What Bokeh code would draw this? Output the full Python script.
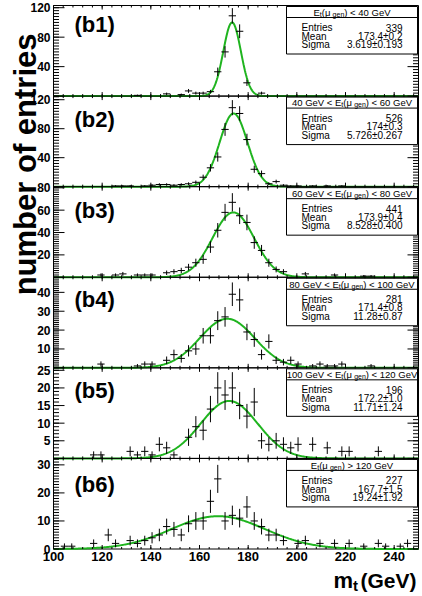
import numpy as np
from bokeh.plotting import figure
from bokeh.models import Range1d, Label
from bokeh.embed import file_html
from bokeh.resources import INLINE

# ---------------- data ----------------
BIN_W = 3.0
X_MIN, X_MAX = 100.0, 250.0

b1_x = [134.5, 146.5, 152.5, 155.5, 158.5, 161.5, 164.5, 167.5, 170.5, 173.5, 176.5, 179.5, 185.5]
b1_n = [1, 3, 2, 7, 4, 4, 6, 33, 60, 109, 88, 18, 4]

b2_x = [125.5, 128.5, 131.5, 137.5, 140.5, 143.5, 146.5, 149.5, 152.5, 155.5, 158.5, 161.5, 164.5,
        167.5, 170.5, 173.5, 176.5, 179.5, 182.5, 185.5, 188.5, 191.5, 194.5, 197.5, 200.5, 206.5,
        212.5, 218.5]
b2_n = [1, 1, 1, 1, 2, 3, 3, 2, 3, 4, 6, 13, 26, 41, 79, 109, 101, 65, 24, 18, 4, 7, 2, 1, 1, 1, 1, 1]

b3_x = [119.5, 125.5, 128.5, 134.5, 137.5, 140.5, 146.5, 149.5, 152.5, 155.5, 158.5, 161.5, 164.5,
        167.5, 170.5, 173.5, 176.5, 179.5, 182.5, 185.5, 188.5, 191.5, 194.5, 203.5, 215.5, 227.5,
        230.5]
b3_n = [2, 2, 3, 2, 2, 2, 4, 5, 6, 9, 13, 16, 27, 42, 58, 67, 55, 49, 31, 24, 13, 7, 5, 3, 2, 1, 1]

b4_x = [119.5, 134.5, 137.5, 140.5, 146.5, 149.5, 152.5, 155.5, 158.5, 161.5, 164.5, 167.5, 170.5,
        173.5, 176.5, 179.5, 182.5, 185.5, 188.5, 191.5, 194.5, 197.5, 200.5, 206.5, 209.5, 212.5,
        215.5, 218.5, 230.5]
b4_n = [2, 1, 2, 2, 4, 7, 5, 9, 10, 17, 17, 25, 27, 39, 36, 19, 15, 7, 14, 4, 3, 4, 2, 1, 2, 1, 1, 2, 1]

b5_x = [116.5, 119.5, 131.5, 134.5, 137.5, 140.5, 143.5, 146.5, 149.5, 155.5, 158.5, 161.5, 164.5,
        167.5, 170.5, 173.5, 176.5, 179.5, 182.5, 185.5, 188.5, 191.5, 194.5, 197.5, 200.5, 206.5,
        212.5, 218.5, 221.5, 233.5]
b5_n = [1, 1, 2, 1, 2, 1, 4, 3, 1, 6, 9, 8, 14, 20, 18, 20, 15, 12, 16, 5, 4, 5, 4, 3, 4, 4, 3, 2, 2, 2]

b6_x = [104.5, 107.5, 116.5, 122.5, 125.5, 131.5, 134.5, 137.5, 140.5, 143.5, 146.5, 149.5, 152.5,
        155.5, 158.5, 161.5, 164.5, 167.5, 170.5, 173.5, 176.5, 179.5, 182.5, 185.5, 188.5, 191.5,
        194.5, 200.5, 203.5, 209.5, 215.5, 221.5, 227.5, 233.5, 236.5, 242.5, 245.5]
b6_n = [1, 1, 2, 5, 2, 3, 2, 3, 4, 5, 8, 7, 5, 9, 10, 10, 17, 25, 10, 12, 11, 15, 10, 8, 5, 5,
        3, 2, 3, 2, 2, 2, 1, 2, 1, 1, 2]

panel_names = ["(b1)", "(b2)", "(b3)", "(b4)", "(b5)", "(b6)"]
panel_x = [b1_x, b2_x, b3_x, b4_x, b5_x, b6_x]
panel_n = [b1_n, b2_n, b3_n, b4_n, b5_n, b6_n]
y_tops = [123, 125, 81, 48, 25.7, 32.3]
y_ticks = [[40, 80, 120], [40, 80, 120], [20, 40, 60, 80], [10, 20, 30, 40], [5, 10, 15, 20, 25], [0, 10, 20, 30]]
y_minor_step = [4, 4, 2, 1, 1, 1]
y_major_step = [40, 40, 20, 10, 5, 10]

fit_const = [100, 101, 58, 26, 16.3, 11.7]
fit_mean = [173.4, 174.0, 173.9, 171.4, 172.2, 167.7]
fit_sigma = [3.619, 5.726, 8.528, 11.28, 11.71, 19.24]

header_pre = ["E", "40 GeV < E", "60 GeV < E", "80 GeV < E", "100 GeV < E", "E"]
header_suf = [") < 40 GeV", ") < 60 GeV", ") < 80 GeV", ") < 100 GeV", ") < 120 GeV", ") > 120 GeV"]
stat_entries = ["339", "526", "441", "281", "196", "227"]
stat_mean = ["173.4\u00b10.2", "174\u00b10.3", "173.9\u00b10.4", "171.4\u00b10.8", "172.2\u00b11.0", "167.7\u00b11.5"]
stat_sigma = ["3.619\u00b10.193", "5.726\u00b10.267", "8.528\u00b10.400", "11.28\u00b10.87", "11.71\u00b11.24", "19.24\u00b11.92"]

x_major = [100, 120, 140, 160, 180, 200, 220, 240]
x_minor_step = 4

# ---------------- layout (canvas pixels) ----------------
CW, CH = 422, 596
FL, FR = 53, 418          # frame left/right
FT, FB = 5, 548.5         # frame top/bottom
NP = 6
PH = (FB - FT) / NP
FONT = "Liberation Sans"
GREEN = "#1fb41f"
label_dy = [19, 23.5, 24, 22.6, 23, 26]

XS = (X_MAX - X_MIN) / (FR - FL)
x_start = X_MIN - FL * XS
x_end = X_MAX + (CW - FR) * XS

def xd(cx):
    return x_start + cx * XS

def ybot(k):
    return FT + (k + 1) * PH

def yd(k, cy):
    s = PH / y_tops[k]
    return (ybot(k) - cy) / s

p = figure(width=CW, height=CH, x_range=Range1d(x_start, x_end), y_range=Range1d(0, 1),
           output_backend="svg", toolbar_location=None, x_axis_location=None,
           y_axis_location=None, min_border=0)
p.title.visible = False
p.grid.visible = False
p.outline_line_color = None
p.background_fill_color = "white"
p.border_fill_color = "white"

x_minor = list(np.arange(X_MIN, X_MAX + 0.01, x_minor_step))

def lbl(x, y, text, rn, size, bold=False, align="left", base="middle", yoff=0, xoff=0, angle=0):
    p.add_layout(Label(x=x, y=y, x_offset=xoff, y_offset=yoff, text=text, text_align=align,
                       text_baseline=base, text_font=FONT,
                       text_font_style="bold" if bold else "normal",
                       text_font_size=f"{size}px", text_color="black", angle=angle,
                       y_range_name=rn))

AW = {" ": 278, "(": 333, ")": 333, "<": 584, ">": 584, "G": 778, "e": 556, "V": 667, "E": 667,
      "t": 278, "g": 556, "n": 556, "\u03bc": 530}
def tw(s, size):
    return sum(AW.get(c, 556) for c in s) * size / 1000.0

for k in range(NP):
    rn = f"p{k}"
    top = y_tops[k]
    s = PH / top
    p.extra_y_ranges[rn] = Range1d(-(CH - ybot(k)) / s, ybot(k) / s)
    ptop = FT + k * PH

    p.quad(left=X_MIN, right=X_MAX, bottom=0, top=top, fill_color=None, line_color="black",
           line_width=1, y_range_name=rn)

    xs = np.array(panel_x[k], dtype=float)
    ns = np.array(panel_n[k], dtype=float)
    err = np.sqrt(ns)

    gx = np.linspace(X_MIN, X_MAX, 600)
    gy = fit_const[k] * np.exp(-0.5 * ((gx - fit_mean[k]) / fit_sigma[k]) ** 2)
    p.line(gx, gy, line_color=GREEN, line_width=2, y_range_name=rn)

    p.segment(x0=xs - BIN_W / 2, y0=ns, x1=xs + BIN_W / 2, y1=ns, line_color="black",
              line_width=1, y_range_name=rn)
    p.segment(x0=xs, y0=ns - err, x1=xs, y1=ns + err, line_color="black",
              line_width=1, y_range_name=rn)

    ymaj = list(np.arange(0, top + 1e-6, y_major_step[k]))
    ymin = list(np.arange(0, top + 1e-6, y_minor_step[k]))
    for xx, ang in ((X_MIN, 0), (X_MAX, np.pi)):
        p.ray(x=[xx] * len(ymaj), y=ymaj, length=11, angle=ang, length_units="screen",
              line_color="black", line_width=1, y_range_name=rn)
        p.ray(x=[xx] * len(ymin), y=ymin, length=5.5, angle=ang, length_units="screen",
              line_color="black", line_width=1, y_range_name=rn)
    for yy, ang in ((0, np.pi / 2), (top, -np.pi / 2)):
        p.ray(x=x_major, y=[yy] * len(x_major), length=4, angle=ang, length_units="screen",
              line_color="black", y_range_name=rn)
        p.ray(x=x_minor, y=[yy] * len(x_minor), length=2, angle=ang, length_units="screen",
              line_color="black", y_range_name=rn)

    for v in y_ticks[k]:
        lbl(X_MIN, v, f"{v:g}", rn, 12, bold=True, align="right", xoff=-3)

    lbl(xd(FL + 21), yd(k, ptop + label_dy[k]), panel_names[k], rn, 22, bold=True)

    # stats box
    bx0, bx1 = xd(FL + 233), xd(FL + 364)
    p.quad(left=bx0, right=bx1, top=yd(k, ptop + 1), bottom=yd(k, ptop + 48.5), fill_color="white",
           line_color="black", line_width=1, y_range_name=rn)
    p.segment(x0=bx0, y0=yd(k, ptop + 12), x1=bx1, y1=yd(k, ptop + 12), line_color="black",
              line_width=1, y_range_name=rn)

    fs, ss = 9.5, 7.0
    pieces = [(header_pre[k], fs, 0), ("t", ss, -2), (" (\u03bc", fs, 0), ("gen", ss, -2), (header_suf[k], fs, 0)]
    total = sum(tw(t, sz) for t, sz, _ in pieces)
    start = FL + (233 + 364) / 2.0 - total / 2.0
    for t, sz, dy in pieces:
        lbl(xd(start), yd(k, ptop + 6.8), t, rn, sz, yoff=dy)
        start += tw(t, sz)

    rows = [("Entries", stat_entries[k]), ("Mean", stat_mean[k]), ("Sigma", stat_sigma[k])]
    for i, (name, val) in enumerate(rows):
        yy = yd(k, ptop + 22 + 8.6 * i)
        lbl(xd(FL + 248), yy, name, rn, 10)
        lbl(xd(FL + 349), yy, val, rn, 10, align="right")

# x tick labels
for v in x_major:
    lbl(v, yd(5, FB + 3), f"{v}", "p5", 13, bold=True, align="center", base="top")

# axis titles
lbl(xd(25), yd(0, 33), "number of entries", "p0", 31, bold=True, align="right",
    base="alphabetic", angle=np.pi / 2)

TB = 580
lbl(xd(333), yd(5, TB), "m", "p5", 22, bold=True, base="alphabetic")
lbl(xd(352.5), yd(5, TB), "t", "p5", 15, bold=True, base="alphabetic", yoff=-5)
lbl(xd(360), yd(5, TB), "(GeV)", "p5", 21, bold=True, base="alphabetic")

open("out.html", "w").write(file_html(p, INLINE))
